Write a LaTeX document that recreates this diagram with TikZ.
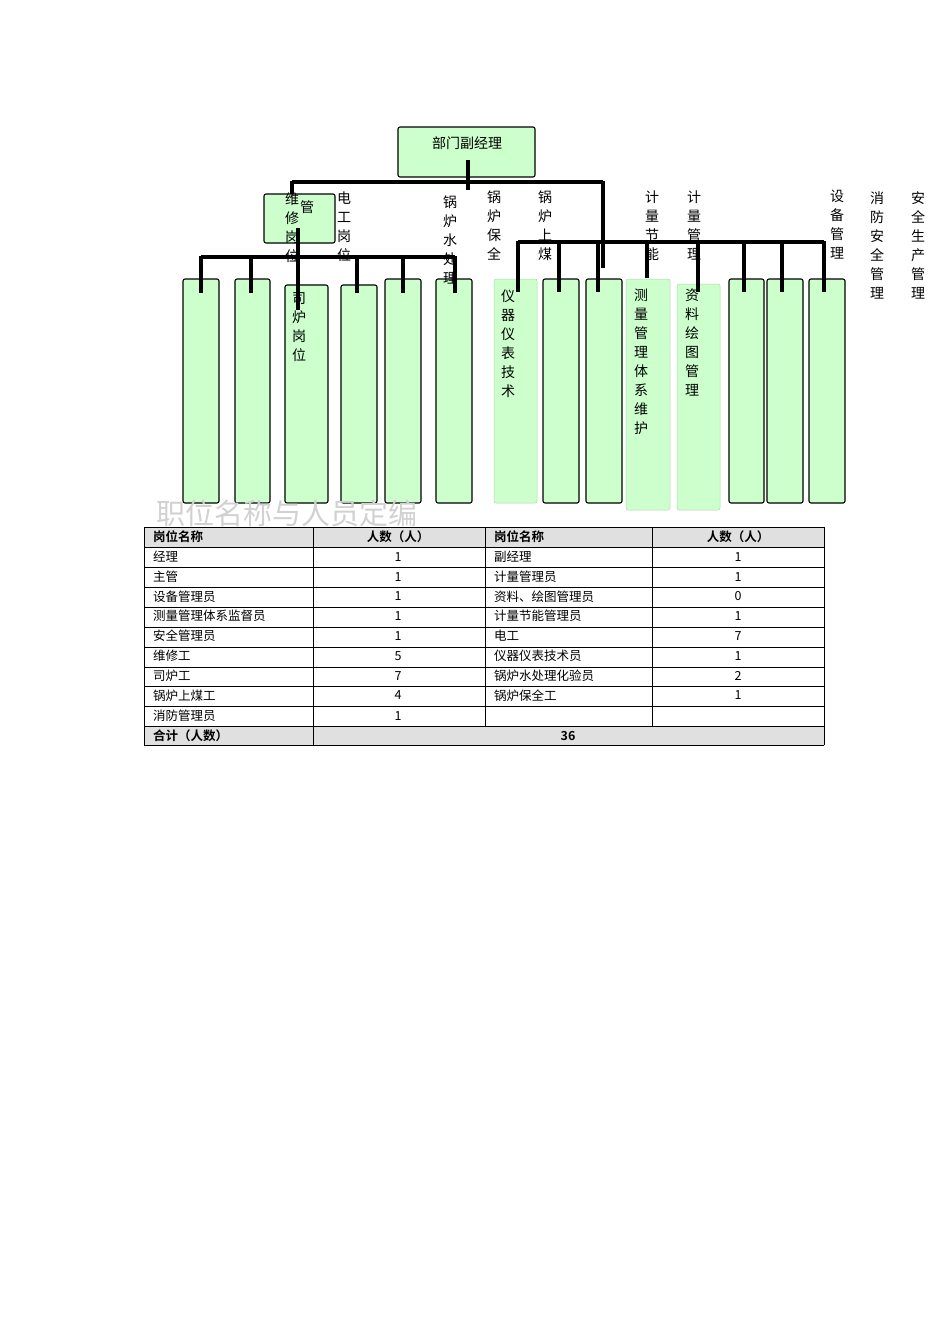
\documentclass[tikz,border=0pt]{standalone}
\usepackage{fontspec}
\newfontfamily\cjk{Noto Sans CJK SC}
\newfontfamily\cjkb{Noto Sans CJK SC Bold}
\begin{document}
\begin{tikzpicture}[x=1pt,y=-1pt,
  gbox/.style={draw=black,fill=green!20,rounded corners=2pt,line width=1.1pt},
  lbox/.style={draw=green!45!black!30,fill=green!20,rounded corners=2pt,line width=0.5pt},
  ln/.style={line width=3.6pt},
  vt/.style={anchor=north,align=center,inner sep=0,font=\cjk\fontsize{14}{19}\selectfont},
  tc/.style={font=\cjk\fontsize{12.5}{15}\selectfont,inner sep=0},
  tb/.style={font=\cjkb\fontsize{12.5}{15}\selectfont,inner sep=0}]
\useasboundingbox (0,0) rectangle (950,1344);
% top
\draw[gbox] (398,127) rectangle (535,177);
\node[font=\cjk\fontsize{14}{16}\selectfont,inner sep=0] (top) at (467,143) {部门副经理};
\draw[gbox] (264,194) rectangle (335,243);
% boxes left
\foreach \a/\b/\t in {183/219/279,235/270/279,285/328/285,341/377/285,385/421/279,436/472/279}
  \draw[gbox] (\a,\t) rectangle (\b,503);
\foreach \a/\b/\t/\bb in {543/579/279/503,586/622/279/503,729/764/279/503,767/803/279/503,809/845/279/503}
  \draw[gbox] (\a,\t) rectangle (\b,\bb);
\foreach \a/\b/\t/\bb in {494/537/279/503,626/670/279/510,677/720/284/510}
  \draw[lbox] (\a,\t) rectangle (\b,\bb);
% lines
\draw[ln] (468,160) -- (468,190);
\draw[ln] (292,182) -- (603,182);
\draw[ln] (292,180.5) -- (292,194);
\draw[ln] (603,180.5) -- (603,268);
\draw[ln] (298,228) -- (298,310);
\draw[ln] (201,257) -- (455,257);
\foreach \x in {201,251,357,403,455} \draw[ln] (\x,255.5) -- (\x,293);
\draw[ln] (518,242) -- (824,242);
\foreach \x/\y in {518/292,559/292,598/292,647/278,698/292,744/292,782/292,824/292} \draw[ln] (\x,240.5) -- (\x,\y);
% vertical labels
\node[vt] at (292,193) {维\\修\\岗\\位};
\node[vt] at (307,200) {管};
\node[vt] at (344,192) {电\\工\\岗\\位};
\node[vt] at (450,196) {锅\\炉\\水\\处\\理};
\node[vt] at (494,191) {锅\\炉\\保\\全};
\node[vt] at (545,191) {锅\\炉\\上\\煤};
\node[vt] at (652,191) {计\\量\\节\\能};
\node[vt] at (694,191) {计\\量\\管\\理};
\node[vt] at (837,190) {设\\备\\管\\理};
\node[vt] at (877,192) {消\\防\\安\\全\\管\\理};
\node[vt] at (918,192) {安\\全\\生\\产\\管\\理};
\node[vt] at (299,292) {司\\炉\\岗\\位};
\node[vt] at (508,290) {仪\\器\\仪\\表\\技\\术};
\node[vt] at (641,289) {测\\量\\管\\理\\体\\系\\维\\护};
\node[vt] at (692,289) {资\\料\\绘\\图\\管\\理};
% watermark
\node[font=\cjk\fontsize{29}{30}\selectfont,text=black!18,anchor=west,inner sep=0] (wm) at (156,513) {职位名称与人员定编};
% table
\fill[black!12] (144,527) rectangle (824,547);
\fill[black!12] (144,726) rectangle (824,745);
\foreach \y in {527,547,567,587,607,627,647,667,686,706,726,745} \draw[line width=0.6pt] (144,\y) -- (824,\y);
\draw[line width=0.6pt] (144,527) -- (144,745) (313,527) -- (313,745) (824,527) -- (824,745);
\draw[line width=0.6pt] (485,527) -- (485,726) (652,527) -- (652,726);
\node[tb,anchor=west] at (153,537) {岗位名称};
\node[tb] at (398,537) {人数（人）};
\node[tb,anchor=west] at (494,537) {岗位名称};
\node[tb] at (738,537) {人数（人）};
\foreach \l/\n/\r/\m [count=\i] in {经理/1/副经理/1,主管/1/计量管理员/1,设备管理员/1/资料、绘图管理员/0,测量管理体系监督员/1/计量节能管理员/1,安全管理员/1/电工/7,维修工/5/仪器仪表技术员/1,司炉工/7/锅炉水处理化验员/2,锅炉上煤工/4/锅炉保全工/1}{
  \node[tc,anchor=west] at (153,537+\i*19.8) {\l};
  \node[tc] at (398,537+\i*19.8) {\n};
  \node[tc,anchor=west] at (494,537+\i*19.8) {\r};
  \node[tc] at (738,537+\i*19.8) {\m};}
\node[tc,anchor=west] at (153,716) {消防管理员};
\node[tc] at (398,716) {1};
\node[tb,anchor=west] at (153,736) {合计（人数）};
\node[tb] at (568,736) {36};
\end{tikzpicture}
\end{document}
